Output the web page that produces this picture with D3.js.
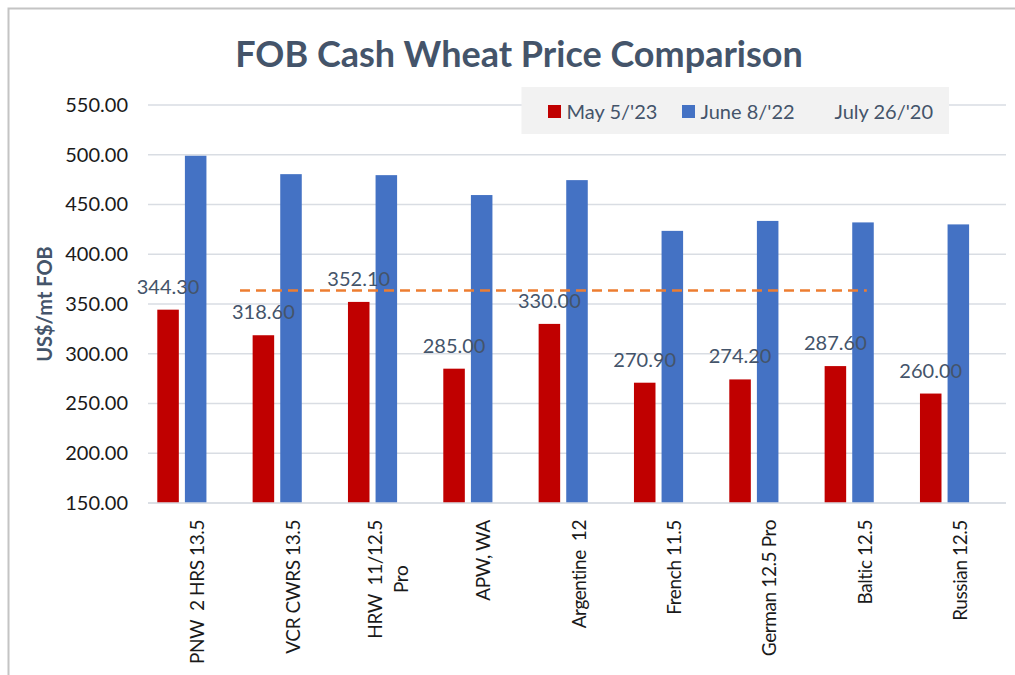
<!DOCTYPE html>
<html>
<head>
<meta charset="utf-8">
<script src="https://cdn.jsdelivr.net/npm/d3@7"></script>
<style>
  html, body { margin: 0; padding: 0; background: #fff; }
  svg { display: block; }
  text { font-family: Lato, "Open Sans", sans-serif; }
</style>
</head>
<body>
<svg id="chart" width="1015" height="675"></svg>
<script>
// ---- data ----
const title = "FOB Cash Wheat Price Comparison";
const yAxisTitle = "US$/mt FOB";
const categories = [
  ["PNW  2 HRS 13.5"],
  ["VCR CWRS 13.5"],
  ["HRW  11/12.5", "Pro"],
  ["APW, WA"],
  ["Argentine  12"],
  ["French 11.5"],
  ["German 12.5 Pro"],
  ["Baltic 12.5"],
  ["Russian 12.5"]
];
const seriesNames = ["May 5/'23", "June 8/'22", "July 26/'20"];
const may23 = [344.30, 318.60, 352.10, 285.00, 330.00, 270.90, 274.20, 287.60, 260.00];
const june22 = [499.0, 480.5, 479.5, 459.5, 474.5, 423.5, 433.5, 432.0, 430.0];
const july20 = []; // no bars shown
const yTicks = [150, 200, 250, 300, 350, 400, 450, 500, 550];
const refValue = 363.5;          // dashed reference line value
const refSpan = [0.965, 7.54];   // span in category units

// ---- layout ----
const svg = d3.select("#chart");
const plot = { left: 148, right: 1006, top: 105, bottom: 503 };
const colors = ["#C00000", "#4472C4", "none"];
const textBlue = "#44546A";

// outer frame
svg.append("rect").attr("x", 8.5).attr("y", 8.5).attr("width", 1030).attr("height", 700)
  .attr("fill", "none").attr("stroke", "#c4c4c4").attr("stroke-width", 2);

const catIdx = categories.map((d, i) => i);
const x0 = d3.scaleBand().domain(catIdx).range([plot.left, plot.right])
  .paddingInner(0.195).paddingOuter(0.0975);
const x1 = d3.scaleBand().domain(seriesNames).range([0, x0.bandwidth()])
  .paddingInner(0.22).paddingOuter(0);
const y = d3.scaleLinear().domain([150, 550]).range([plot.bottom, plot.top]);
const xCat = d3.scaleLinear().domain([0, categories.length]).range([plot.left, plot.right]);

// gridlines
svg.append("g").selectAll("line").data(yTicks).join("line")
  .attr("x1", plot.left).attr("x2", plot.right)
  .attr("y1", d => y(d)).attr("y2", d => y(d))
  .attr("stroke", "#d9dde3").attr("stroke-width", 1.3);

// y axis labels via d3 axis
const yAxis = d3.axisLeft(y).tickValues(yTicks).tickFormat(d3.format(".2f")).tickSize(0).tickPadding(0);
const yg = svg.append("g").attr("transform", `translate(128,0)`).call(yAxis);
yg.select(".domain").remove();
yg.selectAll("text").attr("font-size", 20).attr("fill", "#1a1a1a")
  .attr("font-family", "Lato, 'Open Sans', sans-serif");

// y axis title
svg.append("text")
  .attr("transform", "translate(45,304) rotate(-90)")
  .attr("text-anchor", "middle").attr("dy", "0.35em")
  .attr("font-size", 20).attr("font-weight", "bold").attr("fill", textBlue)
  .text(yAxisTitle);

// bars
const seriesVals = [may23, june22, july20];
seriesVals.forEach((vals, s) => {
  svg.append("g").selectAll("rect").data(vals.map((v, i) => ({ v, i }))).join("rect")
    .attr("x", d => x0(d.i) + x1(seriesNames[s]))
    .attr("y", d => y(d.v))
    .attr("width", x1.bandwidth())
    .attr("height", d => y(150) - y(d.v))
    .attr("fill", colors[s]);
});

// x axis line
svg.append("line").attr("x1", plot.left).attr("x2", plot.right)
  .attr("y1", plot.bottom).attr("y2", plot.bottom)
  .attr("stroke", "#d9dde3").attr("stroke-width", 1.5);

// dashed reference line
svg.append("line")
  .attr("x1", xCat(refSpan[0])).attr("x2", xCat(refSpan[1]))
  .attr("y1", y(refValue)).attr("y2", y(refValue))
  .attr("stroke", "#ED7D31").attr("stroke-width", 2.5).attr("stroke-dasharray", "10,6");

// data labels for May series
svg.append("g").selectAll("text").data(may23).join("text")
  .attr("x", (d, i) => x0(i) + x1(seriesNames[0]) + x1.bandwidth() / 2)
  .attr("y", d => y(d) - 16)
  .attr("text-anchor", "middle").attr("font-size", 20).attr("fill", textBlue)
  .text(d => d3.format(".2f")(d));

// x category labels (rotated)
const labelTop = 520;
const lineGap = 26;
categories.forEach((lines, i) => {
  const cx = x0(i) + x0.bandwidth() / 2 + 2;
  const g = svg.append("g");
  const texts = lines.map((ln, k) => g.append("text")
    .attr("font-size", 19).attr("fill", "#1a1a1a")
    .attr("letter-spacing", "-0.4")
    .style("white-space", "pre")
    .attr("text-anchor", "middle").attr("dy", "0.35em")
    .text(ln));
  const maxLen = d3.max(texts, t => t.node().getComputedTextLength());
  const n = lines.length;
  texts.forEach((t, k) => {
    const off = (k - (n - 1) / 2) * lineGap;
    t.attr("transform", `translate(${cx + off},${labelTop + maxLen / 2}) rotate(-90)`);
  });
});

// title
svg.append("text").attr("x", 519).attr("y", 67).attr("text-anchor", "middle")
  .attr("font-size", 36).attr("font-weight", "bold").attr("fill", textBlue)
  .text(title);

// legend
const lg = svg.append("g");
lg.append("rect").attr("x", 521.5).attr("y", 87).attr("width", 427.5).attr("height", 47)
  .attr("fill", "#f2f2f2");
seriesNames.forEach((name, s) => {
  const lx = 548 + s * 134;
  lg.append("rect").attr("x", lx).attr("y", 105).attr("width", 13).attr("height", 13)
    .attr("fill", colors[s]);
  lg.append("text").attr("x", lx + 18.5).attr("y", 119).attr("font-size", 20)
    .attr("fill", textBlue).text(name);
});
</script>
</body>
</html>
